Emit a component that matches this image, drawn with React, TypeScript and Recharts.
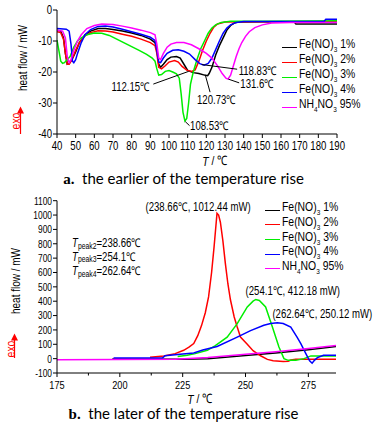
import React from 'react';
import { LineChart, Line, XAxis, YAxis, ReferenceLine, ReferenceDot } from 'recharts';

// ---------- Chart a: earlier stage (T in °C, heat flow in mW) ----------
const tA1 = [40, 42, 43.5, 44.5, 45.5, 46.5, 48, 50, 52, 55, 58, 62, 66, 70, 75, 80, 85, 90, 92.5, 93.5, 94.5, 95.5, 97, 99, 101, 104, 106, 108, 110, 113, 116, 119, 120.7, 121.5, 123, 125, 127, 129, 131, 133, 135, 137, 150, 167, 168, 190];
const vA1 = [-6.5, -6.8, -9, -14, -17.5, -17.3, -16, -13.5, -10.5, -8, -6.8, -6.0, -6.0, -6.3, -6.8, -7.4, -8.2, -9.4, -10.5, -13, -17.5, -18.5, -17.5, -16, -15.2, -15, -15.5, -17.5, -19.5, -20.2, -20.5, -21, -21.2, -20.5, -18.5, -14.5, -11.5, -9, -6.5, -5, -4.2, -3.9, -3.8, -3.8, -4.5, -4.5];
const tA2 = [40, 42, 43.5, 44.5, 45.5, 46.5, 48, 50, 52, 55, 58, 62, 66, 70, 75, 80, 85, 90, 92.5, 93.5, 94.5, 96, 98, 100, 103, 105, 107, 109.5, 112.15, 114, 116, 118, 120, 122, 124, 126, 130, 140, 190];
const vA2 = [-7, -7.3, -9.5, -14, -17.5, -17.5, -16, -13, -10.5, -8.3, -7.3, -6.7, -6.8, -7.1, -7.8, -8.5, -9.4, -10.5, -11.5, -14, -18.5, -19, -18, -16.8, -16.3, -16.8, -18.2, -19.4, -19.8, -19.3, -16.5, -13, -10, -7.5, -5.5, -4.5, -3.9, -3.8, -3.8];
const tA3 = [40, 41, 42, 43, 44, 45, 47, 49, 51, 53, 56, 60, 64, 68, 72, 76, 80, 84, 88, 91, 92.5, 93.5, 94.5, 96, 98, 100, 102, 104, 105.5, 106.5, 107.5, 108.53, 109.5, 110.5, 111.5, 113, 115, 117, 119, 121, 123, 125, 128, 133, 150, 190];
const vA3 = [-9.7, -13, -16.5, -17.2, -17, -16.3, -15, -12, -10, -9, -8, -7.4, -7.5, -8.2, -9.4, -10.6, -11.8, -13, -14.3, -15.5, -16.5, -19, -21, -20.8, -19.8, -19.5, -20, -20.6, -22, -27, -33, -35.8, -35, -30, -24, -20, -16, -12.5, -10, -7.5, -5.8, -4.8, -4, -3.6, -3.6, -3.5];
const tA4 = [40, 45, 46.5, 47.5, 48.3, 49, 50, 51, 53, 55, 58, 62, 66, 70, 75, 80, 85, 90, 92.5, 93.5, 94.5, 95.5, 97, 99, 102, 105, 108, 111, 114, 116.5, 118.83, 121, 123, 125, 127, 129, 131, 133, 136, 140, 183, 184, 190];
const vA4 = [-6, -6.2, -6.8, -11, -16.5, -17, -16, -14, -10.5, -8, -6.3, -5.3, -5.2, -5.5, -6.2, -7, -7.8, -8.8, -9.8, -13, -16.8, -17, -15.5, -14, -13, -12.8, -13.3, -14.2, -16, -17.3, -17.8, -17.2, -15.5, -12.8, -10, -7.5, -5.8, -4.8, -4, -3.7, -3.7, -3, -3];
const tA5 = [40, 43, 44.5, 45.5, 46.5, 47.5, 49, 51, 53, 56, 60, 64, 70, 75, 80, 85, 90, 92.5, 93.5, 94.5, 95.5, 97, 99, 101, 104, 108, 112, 116, 120, 123, 126, 128.5, 130.5, 131.6, 133, 134.5, 136, 137.5, 139, 141, 143, 146, 150, 155, 165, 190];
const vA5 = [-6.5, -6.8, -9, -15, -17, -16, -13, -10, -8, -6, -5, -4.5, -4.7, -5.2, -5.8, -6.5, -7.3, -8, -11, -15.5, -16, -14, -12, -11, -10.5, -10.5, -11.2, -12.5, -14, -15.5, -18, -20.5, -22, -22.3, -21, -18, -15, -12.5, -10.5, -8.5, -7, -5.7, -4.8, -4.2, -4, -4];

const ticksAx = [40, 50, 60, 70, 80, 90, 100, 110, 120, 130, 140, 150, 160, 170, 180, 190];
const ticksAy = [-40, -30, -20, -10, 0];

// annotations chart a: label text, label anchor (T, mW), leader from, leader to
const annAText = ['112.15\u2103', '120.73\u2103', '118.83\u2103', '131.6\u2103', '108.53\u2103'];
const annAPos = [[69.2, -24.7], [115, -28.8], [137.3, -19.4], [138.2, -23.8], [111.3, -37.4]];
const annALead = [[[91.6, -23.9], [110.5, -19.8]], [[122, -26.5], [119.5, -21.1]], [[136.5, -19.1], [117.5, -17.6]], [[131.8, -22.3], [137.6, -23.5]], [[108.7, -36], [111, -37.3]]];

// ---------- Chart b: later stage ----------
const tB1 = [197, 225, 235, 250, 262, 275, 286];
const vB1 = [-3, -4, 0, 22, 40, 62, 84];
const tB2 = [212, 217.5, 222, 225.4, 227.5, 229.4, 231, 232.5, 234, 235.3, 236.5, 237.5, 238.2, 238.66, 239.3, 240, 241, 242, 243, 244, 245.5, 246.7, 248, 250.7, 253, 256, 258.7, 261, 265, 267, 268, 270, 286];
const vB2 = [10, 18, 35, 58, 80, 105, 160, 230, 320, 430, 600, 780, 920, 1012, 1000, 950, 820, 660, 520, 410, 290, 220, 150, 100, 55, 20, -5, -15, -20, -18, -10, -5, -5];
const tB3 = [223, 226.8, 230, 234.8, 238, 242.7, 246.7, 250.7, 253, 254.1, 255.5, 258, 260.7, 263.3, 265.3, 267, 270, 273.3, 276, 286];
const vB3 = [15, 23, 35, 58, 90, 150, 244, 360, 400, 412, 405, 360, 220, 81, 0, -12, -12, 0, 19, 19];
const tB4 = [197.5, 217, 218, 224, 229.4, 233, 238.7, 246.7, 252, 257.3, 260, 262.64, 265, 268, 270.5, 272, 274, 275.5, 276.5, 277.5, 278.6, 281, 286];
const vB4 = [5, 5, 20, 30, 40, 60, 85, 150, 195, 232, 245, 250, 245, 220, 150, 105, 35, -15, -32, -10, 7, 23, 23];
const tB5 = [175, 222, 235, 250, 262, 275, 286];
const vB5 = [-7, -5, 8, 30, 48, 70, 92];

const ticksBx = [175, 187.5, 200, 212.5, 225, 237.5, 250, 262.5, 275];
const labeledBx = [175, 200, 225, 250, 275];
const ticksBy = [-100, 0, 100, 200, 300, 400, 500, 600, 700, 800, 900, 1000, 1100];

const annBText = ['(238.66\u2103, 1012.44 mW)', '(254.1\u2103, 412.18 mW)', '(262.64\u2103, 250.12 mW)'];
const annBPos = [[210.2, 1056], [250, 477], [260.7, 314]];
const peakNames = ['peak2', 'peak3', 'peak4'];
const peakVals = ['=238.66\u2103', '=254.1\u2103', '=262.64\u2103'];
const peakPos = [[181, 807], [181, 714], [181, 616]];

const colors = ['#000000', '#ff0000', '#00ee00', '#0000ff', '#ff00ff'];
const legendMain = ['Fe(NO)', 'Fe(NO)', 'Fe(NO)', 'Fe(NO)', 'NH'];
const legendPct = [' 1%', ' 2%', ' 3%', ' 4%', ' 95%'];

const zip = (t: number[], v: number[]) => t.map((x, i) => ({ x, y: v[i] }));
const seriesA = [zip(tA1, vA1), zip(tA2, vA2), zip(tA3, vA3), zip(tA4, vA4), zip(tA5, vA5)];
const seriesB = [zip(tB1, vB1), zip(tB2, vB2), zip(tB3, vB3), zip(tB4, vB4), zip(tB5, vB5)];

const FONT = '"Liberation Sans", Arial, sans-serif';
const SX = 0.8; // narrow-font look

function NText({ x, y, anchor = 'start', size = 12, fill = '#000', rotate = 0, children }: any) {
  return (
    <text transform={`translate(${x},${y}) rotate(${rotate}) scale(${SX},1)`} textAnchor={anchor}
      dominantBaseline="central" fontFamily={FONT} fontSize={size} fill={fill}>{children}</text>
  );
}

// x tick: p.y is the axis line position (tickSize 0, tickMargin 0)
const makeXTick = (size: number, labeled: number[] | null) => (p: any) => {
  const v = p.payload.value;
  const major = !labeled || labeled.includes(v);
  return (
    <g>
      <line x1={p.x} x2={p.x} y1={p.y} y2={p.y + (major ? 4 : 2.5)} stroke="#000" strokeWidth={1} />
      {major ? <NText x={p.x} y={p.y + 12} anchor="middle" size={size}>{v}</NText> : null}
    </g>
  );
};
const makeYTick = (size: number) => (p: any) => (
  <g>
    <line x1={p.x} x2={p.x - 4} y1={p.y} y2={p.y} stroke="#000" strokeWidth={1} />
    <NText x={p.x - 5} y={p.y} anchor="end" size={size}>{p.payload.value}</NText>
  </g>
);

function LegendLabel({ i }: { i: number }) {
  const sub = { fontSize: 8 };
  if (i === 4) {
    return <span>NH<sub style={sub}>4</sub>NO<sub style={sub}>3</sub>{legendPct[i]}</span>;
  }
  return <span>{legendMain[i]}<sub style={sub}>3</sub>{legendPct[i]}</span>;
}

function LegendBox({ left, top, step }: { left: number; top: number; step: number }) {
  return (
    <div style={{ position: 'absolute', left, top, fontFamily: FONT, fontSize: 13, color: '#000' }}>
      {colors.map((c, i) => (
        <div key={i} style={{ position: 'absolute', top: i * step, left: 0, display: 'flex', alignItems: 'center', whiteSpace: 'nowrap', height: 14 }}>
          <div style={{ width: 15, height: 0, borderTop: `1.6px solid ${c}`, marginRight: 2 }} />
          <div style={{ transform: `scaleX(${SX})`, transformOrigin: 'left center', lineHeight: '14px' }}>
            <LegendLabel i={i} />
          </div>
        </div>
      ))}
    </div>
  );
}

const textShape = (label: string) => (p: any) => (
  <NText x={p.cx} y={p.cy} size={12}>{label}</NText>
);

const peakShape = (i: number) => (p: any) => (
  <NText x={p.cx} y={p.cy} size={12}>
    <tspan fontStyle="italic">T</tspan>
    <tspan fontSize={8.5} dy={3}>{peakNames[i]}</tspan>
    <tspan dy={-3}>{peakVals[i]}</tspan>
  </NText>
);

export default function App() {
  return (
    <div style={{ position: 'absolute', left: 0, top: 0, width: 378, height: 423, background: '#fff', overflow: 'hidden' }}>
      {/* Chart a */}
      <div style={{ position: 'absolute', left: 0, top: 0 }}>
        <LineChart width={378} height={195} margin={{ top: 10, right: 41, left: 0, bottom: 0 }}>
          <XAxis type="number" dataKey="x" domain={[40, 190]} ticks={ticksAx} interval={0} allowDataOverflow height={61}
            tick={makeXTick(12, null)} tickSize={0} tickMargin={0} tickLine={false} axisLine={{ stroke: '#000' }} />
          <YAxis type="number" dataKey="y" domain={[-40, 0]} ticks={ticksAy} interval={0} allowDataOverflow width={57}
            tick={makeYTick(12)} tickSize={0} tickMargin={0} tickLine={false} axisLine={{ stroke: '#000' }} />
          {seriesA.map((d, i) => (
            <Line key={i} data={d} dataKey="y" type="linear" stroke={colors[i]} strokeWidth={1.5} dot={false} isAnimationActive={false} />
          ))}
          {annALead.map((seg, i) => (
            <ReferenceLine key={'l' + i} segment={[{ x: seg[0][0], y: seg[0][1] }, { x: seg[1][0], y: seg[1][1] }]} stroke="#000" strokeWidth={1} ifOverflow="visible" />
          ))}
          {annAText.map((s, i) => (
            <ReferenceDot key={'t' + i} x={annAPos[i][0]} y={annAPos[i][1]} r={0} ifOverflow="visible" shape={textShape(s)} />
          ))}
        </LineChart>
      </div>
      <LegendBox left={282} top={40} step={15} />

      {/* Chart b */}
      <div style={{ position: 'absolute', left: 0, top: 185 }}>
        <LineChart width={378} height={238} margin={{ top: 15.7, right: 42, left: 0, bottom: 0 }}>
          <XAxis type="number" dataKey="x" domain={[175, 286]} ticks={ticksBx} interval={0} allowDataOverflow height={50}
            tick={makeXTick(11.5, labeledBx)} tickSize={0} tickMargin={0} tickLine={false} axisLine={{ stroke: '#000' }} />
          <YAxis type="number" dataKey="y" domain={[-100, 1100]} ticks={ticksBy} interval={0} allowDataOverflow width={57}
            tick={makeYTick(10.5)} tickSize={0} tickMargin={0} tickLine={false} axisLine={{ stroke: '#000' }} />
          {seriesB.map((d, i) => (
            <Line key={i} data={d} dataKey="y" type="linear" stroke={colors[i]} strokeWidth={1.5} dot={false} isAnimationActive={false} />
          ))}
          {annBText.map((s, i) => (
            <ReferenceDot key={'b' + i} x={annBPos[i][0]} y={annBPos[i][1]} r={0} ifOverflow="visible" shape={textShape(s)} />
          ))}
          {peakNames.map((s, i) => (
            <ReferenceDot key={'p' + i} x={peakPos[i][0]} y={peakPos[i][1]} r={0} ifOverflow="visible" shape={peakShape(i)} />
          ))}
        </LineChart>
      </div>
      <LegendBox left={265} top={203} step={14.7} />

      {/* axis titles, exo markers */}
      <svg width={378} height={423} style={{ position: 'absolute', left: 0, top: 0, pointerEvents: 'none' }}>
        <defs>
          <marker id="arr" markerWidth="6" markerHeight="6" refX="3" refY="3" orient="auto">
            <path d="M0,0 L6,3 L0,6 z" fill="#ff0000" />
          </marker>
        </defs>
        <NText x={23} y={58} rotate={-90} anchor="middle" size={12.5}>heat flow / mW</NText>
        <NText x={15} y={121} rotate={-90} anchor="middle" size={13} fill="#ff0000">exo</NText>
        <line x1={20.5} y1={134} x2={20.5} y2={110} stroke="#ff0000" strokeWidth={1.2} markerEnd="url(#arr)" />
        <NText x={215} y={160} anchor="middle" size={13}><tspan fontStyle="italic">T</tspan> / {'\u2103'}</NText>

        <NText x={16} y={281} rotate={-90} anchor="middle" size={12.5}>heat flow / mW</NText>
        <NText x={10} y={349} rotate={-90} anchor="middle" size={13} fill="#ff0000">exo</NText>
        <line x1={14.5} y1={358} x2={14.5} y2={337} stroke="#ff0000" strokeWidth={1.2} markerEnd="url(#arr)" />
        <NText x={200} y={398} anchor="middle" size={13}><tspan fontStyle="italic">T</tspan> / {'\u2103'}</NText>
      </svg>

      <div style={{ position: 'absolute', left: 0, top: 170, width: 367, textAlign: 'center', fontFamily: 'Lato, "Open Sans", sans-serif', fontSize: 15, lineHeight: '16px', color: '#000', whiteSpace: 'nowrap' }}>
        <b style={{ fontFamily: '"Liberation Serif", serif' }}>a.</b>&nbsp; the earlier of the temperature rise
      </div>
      <div style={{ position: 'absolute', left: 0, top: 405, width: 367, textAlign: 'center', fontFamily: 'Lato, "Open Sans", sans-serif', fontSize: 15, lineHeight: '16px', color: '#000', whiteSpace: 'nowrap' }}>
        <b style={{ fontFamily: '"Liberation Serif", serif' }}>b.</b>&nbsp; the later of the temperature rise
      </div>
    </div>
  );
}
